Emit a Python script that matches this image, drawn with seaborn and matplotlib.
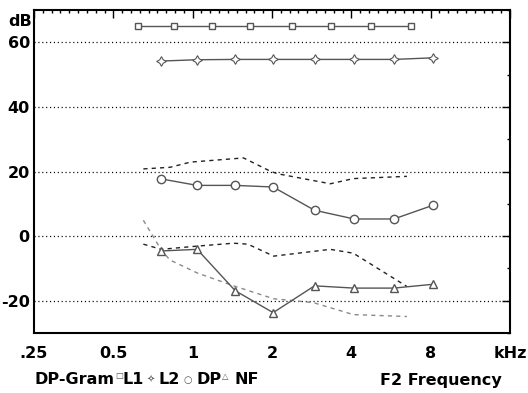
import numpy as np
import pandas as pd
import seaborn as sns
import matplotlib.pyplot as plt
from matplotlib.ticker import NullFormatter

# DP-gram test points (F2 in kHz), L1 is plotted at F1 = F2 / 1.22
F2 = [0.76, 1.04, 1.45, 2.02, 2.9, 4.1, 5.8, 8.2]
L1 = [65, 65, 65, 65, 65, 65, 65, 65]
L2 = [54.2, 54.6, 54.7, 54.7, 54.7, 54.7, 54.7, 55.2]
DP = [17.7, 15.7, 15.7, 15.2, 8.0, 5.3, 5.3, 9.6]
NF = [-4.6, -4.1, -16.9, -23.7, -15.4, -16.1, -16.1, -14.9]

# normative ranges
NORM_HI_F = [0.65, 0.82, 0.98, 1.17, 1.56, 1.97, 2.1, 3.33, 4.07, 6.5]
NORM_HI = [20.8, 21.3, 22.9, 23.4, 24.2, 20.1, 19.3, 16.2, 17.8, 18.5]
NORM_MID_F = [0.65, 0.76, 1.04, 1.43, 1.62, 2.03, 3.33, 4.07, 6.5]
NORM_MID = [-2.5, -4.1, -3.1, -2.2, -2.5, -6.2, -4.1, -5.3, -15.6]
NORM_LO_F = [0.65, 0.76, 0.82, 1.04, 1.43, 2.03, 2.87, 4.07, 6.5]
NORM_LO = [4.9, -4.3, -7.4, -11.4, -15.4, -19.4, -20.6, -24.3, -24.9]

XTICKS = [0.25, 0.5, 1, 2, 4, 8, 16]
XLABELS = [".25", "0.5", "1", "2", "4", "8", "kHz"]
YTICKS = [-20, 0, 20, 40, 60]

sns.set_style("white")
plt.rcParams["font.family"] = ["DejaVu Sans"]
plt.rcParams["axes.unicode_minus"] = False
plt.rcParams["text.color"] = "black"

fig = plt.figure(figsize=(5.28, 3.93), dpi=100)
ax = fig.add_axes([34 / 528, 1 - 333 / 393, 476 / 528, 323 / 393])

LINE = "#555555"
pts = pd.DataFrame({"f2": F2, "f1": [f / 1.22 for f in F2],
                    "L1": L1, "L2": L2, "DP": DP, "NF": NF})

# norm dashed lines
sns.lineplot(x=NORM_HI_F, y=NORM_HI, ax=ax, color="#222222", lw=1,
             linestyle=(0, (3, 3)))
sns.lineplot(x=NORM_MID_F, y=NORM_MID, ax=ax, color="#222222", lw=1,
             linestyle=(0, (3, 3)))
sns.lineplot(x=NORM_LO_F, y=NORM_LO, ax=ax, color="#8a8a8a", lw=1,
             linestyle=(0, (3, 3)))

mk = dict(color=LINE, lw=1, mfc="white", mec=LINE)
sns.lineplot(data=pts, x="f1", y="L1", ax=ax, marker="s", ms=5, mew=1, **mk)
sns.lineplot(data=pts, x="f2", y="L2", ax=ax, marker=(4, 1, 0), ms=7,
             mew=0.8, **mk)
sns.lineplot(data=pts, x="f2", y="DP", ax=ax, marker="o", ms=6, mew=1, **mk)
sns.lineplot(data=pts, x="f2", y="NF", ax=ax, marker="^", ms=6, mew=1, **mk)

ax.set_xscale("log", base=2)
ax.set_xlim(0.25, 16)
ax.set_ylim(-30, 70)
ax.set_xticks(XTICKS)
ax.set_xticklabels(XLABELS)
minor_x = [2 ** (k / 9) for k in range(-18, 37) if k % 9 != 0]
ax.set_xticks(minor_x, minor=True)
ax.xaxis.set_minor_formatter(NullFormatter())
ax.set_yticks(YTICKS)
ax.set_yticklabels([str(v) for v in YTICKS])
ax.set_yticks([-30, -10, 10, 30, 50, 70], minor=True)
ax.yaxis.set_minor_formatter(NullFormatter())
ax.set_xlabel("")
ax.set_ylabel("")

ax.yaxis.grid(True, which="major", color="black", lw=0.9,
              linestyle=(0, (0.9, 2.2)))
ax.xaxis.grid(False)

ax.tick_params(which="both", direction="in", top=True, right=True,
               colors="black", width=1)
ax.tick_params(which="major", length=6)
ax.tick_params(which="minor", length=2.5)
ax.tick_params(axis="x", which="major", pad=9)
ax.tick_params(axis="y", which="major", pad=3)
for lab in ax.get_xticklabels() + ax.get_yticklabels():
    lab.set_fontsize(11.5)
    lab.set_fontweight("bold")

for sp in ax.spines.values():
    sp.set_color("black")
    sp.set_linewidth(1.5)

fig.text(8 / 528, 1 - 21 / 393, "dB", fontsize=11.5, fontweight="bold",
         va="center", ha="left")

# legend-like caption under the axis
ly = 1 - 380 / 393
cap = dict(fontsize=11.5, fontweight="bold", va="center")
sym = dict(va="center", color="#555555")
fig.text(34 / 528, ly, "DP-Gram", **cap)
fig.text(115 / 528, ly + 0.012, "□", fontsize=6, **sym)
fig.text(122 / 528, ly, "L1", **cap)
fig.text(147 / 528, ly, "✧", fontsize=7, **sym)
fig.text(158 / 528, ly, "L2", **cap)
fig.text(183 / 528, ly, "○", fontsize=7, **sym)
fig.text(196 / 528, ly, "DP", **cap)
fig.text(222 / 528, ly + 0.008, "△", fontsize=6, **sym)
fig.text(234 / 528, ly, "NF", **cap)
fig.text(380 / 528, ly, "F2 Frequency", **cap)

fig.savefig("out.png", dpi=100)
